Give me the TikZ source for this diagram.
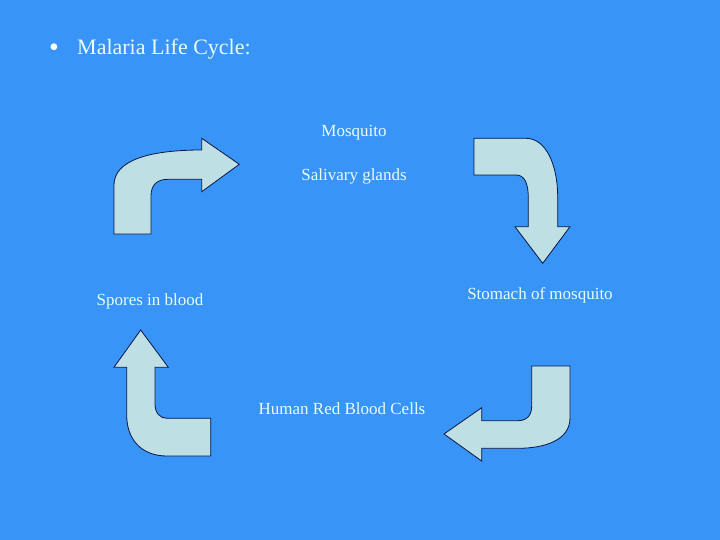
\documentclass[tikz,border=0pt]{standalone}
\usepackage{fontspec}
\setmainfont{Liberation Serif}
\definecolor{slideblue}{RGB}{56, 148, 246}
\definecolor{arrowfill}{RGB}{190, 224, 228}
\definecolor{arrowline}{RGB}{10, 20, 70}
\definecolor{labeltext}{RGB}{232, 252, 250}
\usetikzlibrary{positioning}

\begin{document}
\begin{tikzpicture}[x=1pt, y=-1pt,
    label/.style={text=labeltext, font=\fontsize{17}{20}\selectfont, inner sep=0pt},
    bentarrow/.style={fill=arrowfill, draw=arrowline, line width=0.8pt, line join=miter},
]
\useasboundingbox[fill=slideblue] (0,0) rectangle (720,540);

% title
\node[text=labeltext, font=\fontsize{22}{26}\selectfont, anchor=base west, inner sep=0pt] (title) at (77,55) {Malaria Life Cycle:};
\node[text=white, font=\fontsize{28}{30}\selectfont, anchor=base, inner sep=0pt] (dot) at (54,57) {\textbullet};

% stages
\node[label] (mosq) at (354,133) {Mosquito};
\node[label] (saliva) at (354,176) {Salivary glands};
\node[label] (stomach) at (540,295) {Stomach of mosquito};
\node[label] (spores) at (150,301) {Spores in blood};
\node[label] (rbc) at (342,409) {Human Red Blood Cells};

% block arrows
\draw[bentarrow] (114,234) -- (114,185) .. controls (114,160) and (150,150) .. (201.7,150)
    -- (201.7,138.3) -- (239.3,164.3) -- (201.7,191.7) -- (201.7,179.3) -- (168,179.3)
    .. controls (157,179.3) and (151,185) .. (151,196) -- (151,234) -- cycle;
\draw[bentarrow] (474,138.3) -- (526,138.3) .. controls (546,138.3) and (557.7,165) .. (557.7,197)
    -- (557.7,226.7) -- (570,226.7) -- (542.7,263.3) -- (515,226.7) -- (528.3,226.7) -- (528.3,198)
    .. controls (528.3,184) and (525,175) .. (516,175) -- (474,175) -- cycle;
\draw[bentarrow] (570,366) -- (570,418) .. controls (570,440) and (545,448.3) .. (518,448.3)
    -- (481.7,448.3) -- (481.7,461) -- (444,434) -- (481.7,407.7) -- (481.7,420.7) -- (518,420.7)
    .. controls (528,420.7) and (531.7,414) .. (531.7,406) -- (531.7,366) -- cycle;
\draw[bentarrow] (210.7,456) -- (167,456) .. controls (142,456) and (126.7,440) .. (126.7,415)
    -- (126.7,367.3) -- (114,367.3) -- (140.7,330) -- (168.3,367.3) -- (155,367.3) -- (155,404)
    .. controls (155,413) and (160,418.3) .. (167,418.3) -- (210.7,418.3) -- cycle;
\end{tikzpicture}
\end{document}
